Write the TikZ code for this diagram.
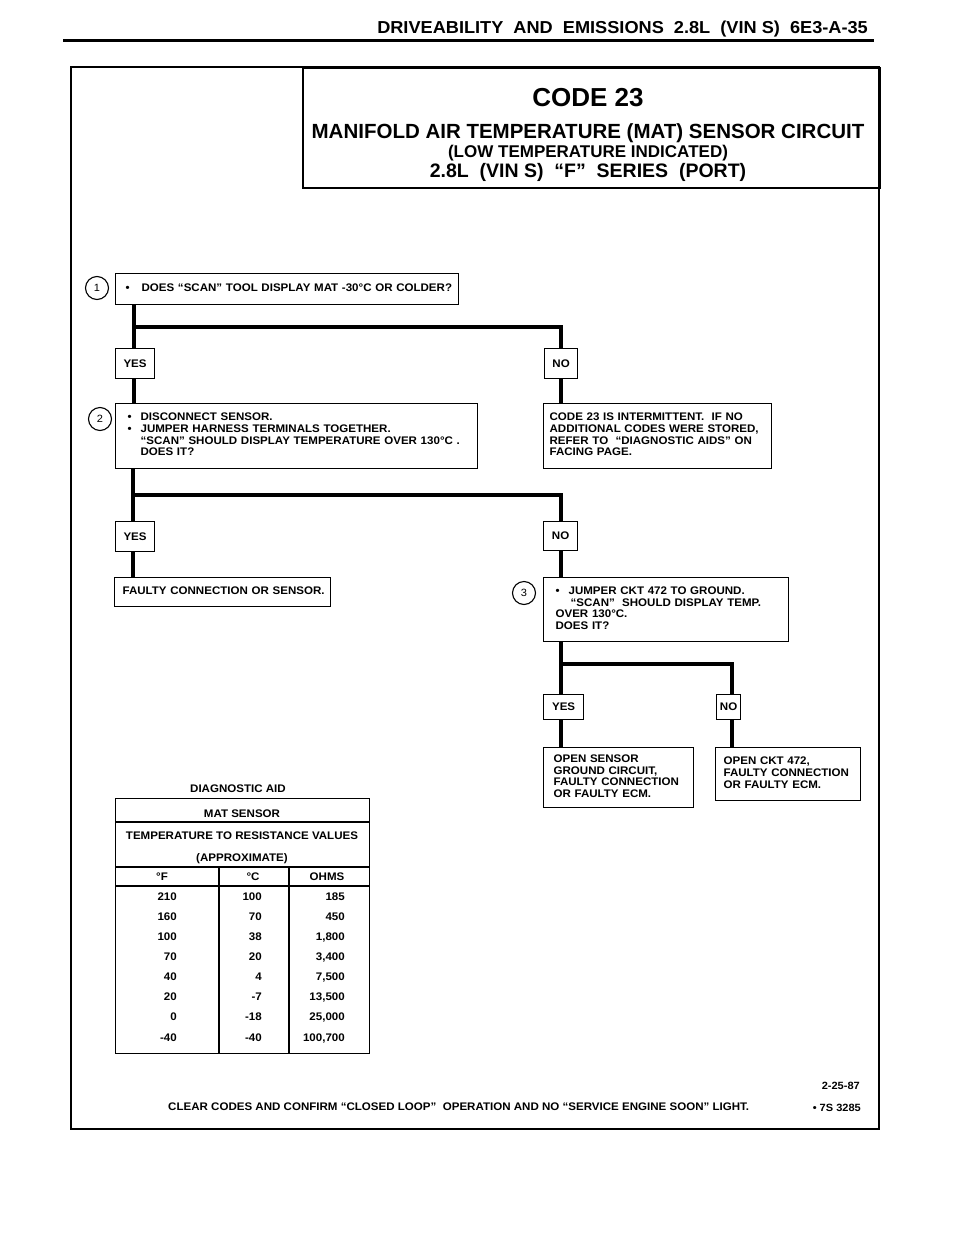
\documentclass[tikz,border=0pt]{standalone}
\usepackage{fontspec}
\setmainfont{Liberation Sans}[FakeStretch=1.05]
\newfontfamily\titlefam{Liberation Sans}
\newcommand\boxfont{\fontsize{11}{11.7}\selectfont\bfseries}
\newcommand\boxlines[1]{\begin{tabular}{@{}l@{}}#1\end{tabular}}
\newcommand\bul{\makebox[13pt][l]{\textbullet}}
\begin{document}
\begin{tikzpicture}[x=1pt,y=-1pt,
  box/.style={draw, line width=1.2pt, anchor=north west, inner ysep=0pt, font=\boxfont},
  yn/.style={draw, line width=1.2pt, anchor=north west, inner sep=0pt, font=\boxfont},
  conn/.style={line width=3.2pt},
  num/.style={draw, circle, line width=1.1pt, minimum size=23pt, inner sep=0pt, font=\fontsize{10.5}{12}\selectfont},
  txt/.style={inner sep=0pt, font=\boxfont},
  ttl/.style={inner sep=0pt, anchor=base, font=\titlefam\bfseries},
]
\useasboundingbox (0,0) rectangle (960,1237);

% header
\node[inner sep=0pt, anchor=base east, font=\fontsize{17.3}{19}\selectfont\bfseries] (hdr) at (868,33) {DRIVEABILITY\ \ AND\ \ EMISSIONS\ \ 2.8L\ \ (VIN S)\ \ 6E3-A-35};
\draw[line width=3pt] (63,40) -- (874,40);

% frame and title box
\draw[line width=2.5pt] (71,67) rectangle (879,1129);
\node[draw, line width=2pt, anchor=north west, minimum width=577pt, minimum height=120pt, inner sep=0pt] (title) at (302,67) {};
\node[ttl, font=\titlefam\fontsize{26}{28}\selectfont\bfseries] (t1) at (588,106) {CODE 23};
\node[ttl, font=\titlefam\fontsize{20.5}{22}\selectfont\bfseries] (t2) at (588,138) {MANIFOLD AIR TEMPERATURE (MAT) SENSOR CIRCUIT};
\node[ttl, font=\titlefam\fontsize{17}{19}\selectfont\bfseries] (t3) at (588,157) {(LOW TEMPERATURE INDICATED)};
\node[ttl, font=\titlefam\fontsize{19.5}{21}\selectfont\bfseries] (t4) at (588,177) {2.8L\ \ (VIN S)\ \ “F”\ \ SERIES\ \ (PORT)};

% step 1
\node[num] (c1) at (97,288) {1};
\node[box, minimum width=343pt, minimum height=31pt, text width=323pt, inner xsep=10pt] (b1) at (115,273)
  {\boxlines{\makebox[16pt][l]{\textbullet}DOES “SCAN” TOOL DISPLAY MAT -30°C OR COLDER?}};
\node[yn, minimum width=39pt, minimum height=30pt] (y1) at (115,348) {YES};
\node[yn, minimum width=33pt, minimum height=30pt] (n1) at (544,348) {NO};

% step 2
\node[num] (c2) at (100,419) {2};
\node[box, minimum width=362pt, minimum height=65pt, text width=338pt, inner xsep=12pt] (b2) at (115,403)
  {\boxlines{\bul DISCONNECT SENSOR.\\
   \bul JUMPER HARNESS TERMINALS TOGETHER.\\
   \hspace*{13pt}“SCAN” SHOULD DISPLAY TEMPERATURE OVER 130°C .\\
   \hspace*{13pt}DOES IT?}};
\node[box, minimum width=228pt, minimum height=65pt, text width=216pt, inner xsep=6pt] (r1) at (543,403)
  {\boxlines{CODE 23 IS INTERMITTENT.\ \ IF NO\\
   ADDITIONAL CODES WERE STORED,\\
   REFER TO\ \ “DIAGNOSTIC AIDS” ON\\
   FACING PAGE.}};
\node[yn, minimum width=39pt, minimum height=30pt] (y2) at (115,521) {YES};
\node[yn, minimum width=34pt, minimum height=29pt] (n2) at (543,521) {NO};

% step 3
\node[box, minimum width=216pt, minimum height=29pt, text width=200pt, inner xsep=8pt] (f) at (114,577)
  {\boxlines{FAULTY CONNECTION OR SENSOR.}};
\node[num] (c3) at (524,593) {3};
\node[box, minimum width=245pt, minimum height=64pt, text width=221pt, inner xsep=12pt] (b3) at (543,577)
  {\boxlines{\bul JUMPER CKT 472 TO GROUND.\\
   \hspace*{15pt}“SCAN”\ \ SHOULD DISPLAY TEMP.\\
   OVER 130°C.\\
   DOES IT?}};
\node[yn, minimum width=40pt, minimum height=25pt] (y3) at (543,694) {YES};
\node[yn, minimum width=24pt, minimum height=25pt] (n3) at (716,694) {NO};
\node[box, minimum width=150pt, minimum height=60pt, text width=130pt, inner xsep=10pt] (o1) at (543,747)
  {\boxlines{OPEN SENSOR\\ GROUND CIRCUIT,\\ FAULTY CONNECTION\\ OR FAULTY ECM.}};
\node[box, minimum width=145pt, minimum height=53pt, text width=129pt, inner xsep=8pt] (o2) at (715,747)
  {\boxlines{OPEN CKT 472,\\ FAULTY CONNECTION\\ OR FAULTY ECM.}};

% connectors
\coordinate (j1) at (134,327); \coordinate (k1) at (561,327);
\coordinate (j2) at (133,495); \coordinate (k2) at (561,495);
\coordinate (j3) at (561,664); \coordinate (k3) at (732,664);
\draw[conn] (b1.south -| j1) -- (y1.north -| j1);
\draw[conn] (j1) -- (k1) -- (n1.north -| k1);
\draw[conn] (y1.south -| j1) -- (b2.north -| j1);
\draw[conn] (n1.south -| k1) -- (r1.north -| k1);
\draw[conn] (b2.south -| j2) -- (y2.north -| j2);
\draw[conn] (j2) -- (k2) -- (n2.north -| k2);
\draw[conn] (y2.south -| j2) -- (f.north -| j2);
\draw[conn] (n2.south -| k2) -- (b3.north -| k2);
\draw[conn] (b3.south -| j3) -- (y3.north -| j3);
\draw[conn] (j3) -- (k3) -- (n3.north -| k3);
\draw[conn] (y3.south -| j3) -- (o1.north -| j3);
\draw[conn] (n3.south -| k3) -- (o2.north -| k3);

% diagnostic aid table
\node[txt, anchor=base] (da) at (238,792) {DIAGNOSTIC AID};
\node[draw, line width=1.2pt, anchor=north west, minimum width=254pt, minimum height=255pt, inner sep=0pt] (tab) at (115,798) {};
\draw[line width=1.2pt] (115,822) -- (369,822);
\draw[line width=1.2pt] (115,867) -- (369,867);
\draw[line width=1.2pt] (115,886) -- (369,886);
\draw[line width=1.2pt] (219,867) -- (219,1053);
\draw[line width=1.2pt] (289,867) -- (289,1053);
\node[txt, anchor=base] (ms) at (242,817) {MAT SENSOR};
\node[txt, anchor=base] (tr) at (242,839) {TEMPERATURE TO RESISTANCE VALUES};
\node[txt, anchor=base] (ap) at (242,861) {(APPROXIMATE)};
\node[txt, anchor=base] (hf) at (162,880) {°F};
\node[txt, anchor=base] (hc) at (253,880) {°C};
\node[txt, anchor=base] (ho) at (327,880) {OHMS};
\foreach \f/\c/\o [count=\i from 0] in {210/100/185, 160/70/450, 100/38/{1,800}, 70/20/{3,400}, 40/4/{7,500}, 20/-7/{13,500}, 0/-18/{25,000}, -40/-40/{100,700}} {
  \node[txt, anchor=base east] (rf\i) at (177,900+20.15*\i) {\f};
  \node[txt, anchor=base east] (rc\i) at (262,900+20.15*\i) {\c};
  \node[txt, anchor=base east] (ro\i) at (345,900+20.15*\i) {\o};
}

% footer
\node[txt, anchor=base west] (clr) at (168,1110) {CLEAR CODES AND CONFIRM “CLOSED LOOP”\ \ OPERATION AND NO “SERVICE ENGINE SOON” LIGHT.};
\node[txt, anchor=base east, font=\fontsize{10.5}{12}\selectfont\bfseries] (dt) at (860,1089) {2-25-87};
\node[txt, anchor=base east, font=\fontsize{10.5}{12}\selectfont\bfseries] (ref) at (861,1111) {\textbullet\ 7S 3285};
\end{tikzpicture}
\end{document}
